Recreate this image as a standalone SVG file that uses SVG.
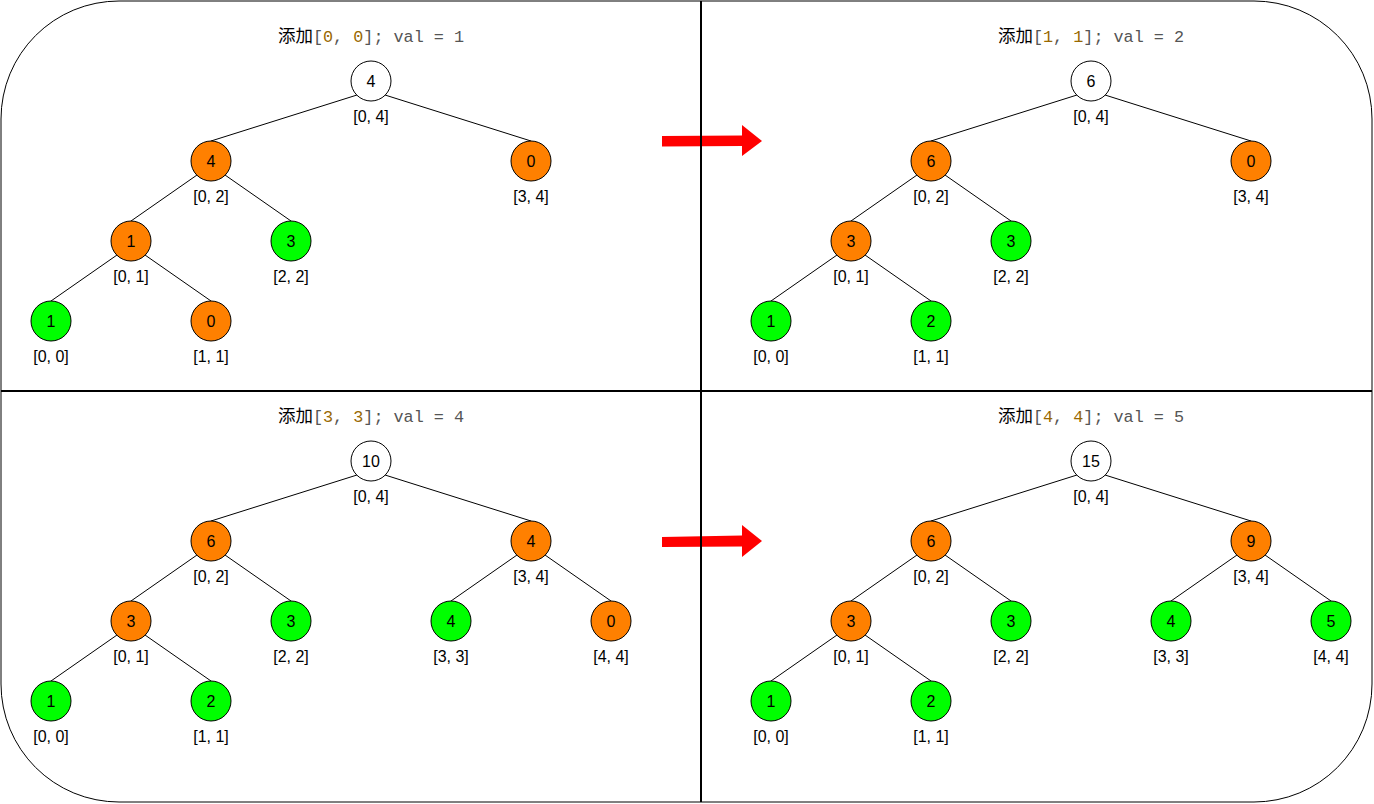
<svg xmlns="http://www.w3.org/2000/svg" width="1374" height="804" viewBox="0 0 1374 804">
<style>
.n{stroke:#000;stroke-width:1}
.w{fill:#fff}.o{fill:#FF8000}.g{fill:#00FF00}
.t{font-family:"Liberation Sans",Arial,sans-serif;font-size:16px;fill:#000;text-anchor:middle}
.ttl{font-family:"Liberation Mono","DejaVu Sans Mono",monospace;font-size:16.8px;fill:#555;text-anchor:middle}
.cjk{font-family:"Noto Sans CJK SC",sans-serif;font-size:17.5px;fill:#000}
.num{fill:#986801}
.e{stroke:#000;stroke-width:1;fill:none}
.arr{fill:#FF0000}
</style>
<rect x="1" y="1" width="1371" height="801" rx="118" ry="118" fill="#fff" stroke="#000" stroke-width="1"/>
<g id="arrows">
<polygon class="arr" points="662,136 742,135.5 742,125 762,141 742,156 742,146 662,146.5"/>
<polygon class="arr" points="662,537 742,535.5 742,525 762,541 742,557 742,546.5 662,547"/>
</g>
<g id="dividers">
<line x1="701" y1="1" x2="701" y2="802" stroke="#000" stroke-width="2"/>
<line x1="1" y1="391" x2="1372" y2="391" stroke="#000" stroke-width="2"/>
</g>
<g id="titles">
<text class="ttl" x="371" y="42"><tspan class="cjk">添加</tspan>[<tspan class="num">0</tspan>, <tspan class="num">0</tspan>]; val = 1</text>
<text class="ttl" x="1091" y="42"><tspan class="cjk">添加</tspan>[<tspan class="num">1</tspan>, <tspan class="num">1</tspan>]; val = 2</text>
<text class="ttl" x="371" y="422"><tspan class="cjk">添加</tspan>[<tspan class="num">3</tspan>, <tspan class="num">3</tspan>]; val = 4</text>
<text class="ttl" x="1091" y="422"><tspan class="cjk">添加</tspan>[<tspan class="num">4</tspan>, <tspan class="num">4</tspan>]; val = 5</text>
</g>
<g id="connectors">
<line class="e" x1="357" y1="95" x2="211" y2="141"/>
<line class="e" x1="385" y1="95" x2="531" y2="141"/>
<line class="e" x1="197" y1="175" x2="131" y2="221"/>
<line class="e" x1="225" y1="175" x2="291" y2="221"/>
<line class="e" x1="117" y1="255" x2="51" y2="301"/>
<line class="e" x1="145" y1="255" x2="211" y2="301"/>
<line class="e" x1="1077" y1="95" x2="931" y2="141"/>
<line class="e" x1="1105" y1="95" x2="1251" y2="141"/>
<line class="e" x1="917" y1="175" x2="851" y2="221"/>
<line class="e" x1="945" y1="175" x2="1011" y2="221"/>
<line class="e" x1="837" y1="255" x2="771" y2="301"/>
<line class="e" x1="865" y1="255" x2="931" y2="301"/>
<line class="e" x1="357" y1="475" x2="211" y2="521"/>
<line class="e" x1="385" y1="475" x2="531" y2="521"/>
<line class="e" x1="197" y1="555" x2="131" y2="601"/>
<line class="e" x1="225" y1="555" x2="291" y2="601"/>
<line class="e" x1="517" y1="555" x2="451" y2="601"/>
<line class="e" x1="545" y1="555" x2="611" y2="601"/>
<line class="e" x1="117" y1="635" x2="51" y2="681"/>
<line class="e" x1="145" y1="635" x2="211" y2="681"/>
<line class="e" x1="1077" y1="475" x2="931" y2="521"/>
<line class="e" x1="1105" y1="475" x2="1251" y2="521"/>
<line class="e" x1="917" y1="555" x2="851" y2="601"/>
<line class="e" x1="945" y1="555" x2="1011" y2="601"/>
<line class="e" x1="1237" y1="555" x2="1171" y2="601"/>
<line class="e" x1="1265" y1="555" x2="1331" y2="601"/>
<line class="e" x1="837" y1="635" x2="771" y2="681"/>
<line class="e" x1="865" y1="635" x2="931" y2="681"/>
</g>
<g id="tl-root"><circle class="n w" cx="371" cy="81" r="20"/><text class="t" x="371" y="87">4</text><text class="t" x="371" y="121.5">[0, 4]</text></g>
<g id="tl-02"><circle class="n o" cx="211" cy="161" r="20"/><text class="t" x="211" y="167">4</text><text class="t" x="211" y="201.5">[0, 2]</text></g>
<g id="tl-34"><circle class="n o" cx="531" cy="161" r="20"/><text class="t" x="531" y="167">0</text><text class="t" x="531" y="201.5">[3, 4]</text></g>
<g id="tl-01"><circle class="n o" cx="131" cy="241" r="20"/><text class="t" x="131" y="247">1</text><text class="t" x="131" y="281.5">[0, 1]</text></g>
<g id="tl-22"><circle class="n g" cx="291" cy="241" r="20"/><text class="t" x="291" y="247">3</text><text class="t" x="291" y="281.5">[2, 2]</text></g>
<g id="tl-00"><circle class="n g" cx="51" cy="321" r="20"/><text class="t" x="51" y="327">1</text><text class="t" x="51" y="361.5">[0, 0]</text></g>
<g id="tl-11"><circle class="n o" cx="211" cy="321" r="20"/><text class="t" x="211" y="327">0</text><text class="t" x="211" y="361.5">[1, 1]</text></g>
<g id="tr-root"><circle class="n w" cx="1091" cy="81" r="20"/><text class="t" x="1091" y="87">6</text><text class="t" x="1091" y="121.5">[0, 4]</text></g>
<g id="tr-02"><circle class="n o" cx="931" cy="161" r="20"/><text class="t" x="931" y="167">6</text><text class="t" x="931" y="201.5">[0, 2]</text></g>
<g id="tr-34"><circle class="n o" cx="1251" cy="161" r="20"/><text class="t" x="1251" y="167">0</text><text class="t" x="1251" y="201.5">[3, 4]</text></g>
<g id="tr-01"><circle class="n o" cx="851" cy="241" r="20"/><text class="t" x="851" y="247">3</text><text class="t" x="851" y="281.5">[0, 1]</text></g>
<g id="tr-22"><circle class="n g" cx="1011" cy="241" r="20"/><text class="t" x="1011" y="247">3</text><text class="t" x="1011" y="281.5">[2, 2]</text></g>
<g id="tr-00"><circle class="n g" cx="771" cy="321" r="20"/><text class="t" x="771" y="327">1</text><text class="t" x="771" y="361.5">[0, 0]</text></g>
<g id="tr-11"><circle class="n g" cx="931" cy="321" r="20"/><text class="t" x="931" y="327">2</text><text class="t" x="931" y="361.5">[1, 1]</text></g>
<g id="bl-root"><circle class="n w" cx="371" cy="461" r="20"/><text class="t" x="371" y="467">10</text><text class="t" x="371" y="501.5">[0, 4]</text></g>
<g id="bl-02"><circle class="n o" cx="211" cy="541" r="20"/><text class="t" x="211" y="547">6</text><text class="t" x="211" y="581.5">[0, 2]</text></g>
<g id="bl-34"><circle class="n o" cx="531" cy="541" r="20"/><text class="t" x="531" y="547">4</text><text class="t" x="531" y="581.5">[3, 4]</text></g>
<g id="bl-01"><circle class="n o" cx="131" cy="621" r="20"/><text class="t" x="131" y="627">3</text><text class="t" x="131" y="661.5">[0, 1]</text></g>
<g id="bl-22"><circle class="n g" cx="291" cy="621" r="20"/><text class="t" x="291" y="627">3</text><text class="t" x="291" y="661.5">[2, 2]</text></g>
<g id="bl-33"><circle class="n g" cx="451" cy="621" r="20"/><text class="t" x="451" y="627">4</text><text class="t" x="451" y="661.5">[3, 3]</text></g>
<g id="bl-44"><circle class="n o" cx="611" cy="621" r="20"/><text class="t" x="611" y="627">0</text><text class="t" x="611" y="661.5">[4, 4]</text></g>
<g id="bl-00"><circle class="n g" cx="51" cy="701" r="20"/><text class="t" x="51" y="707">1</text><text class="t" x="51" y="741.5">[0, 0]</text></g>
<g id="bl-11"><circle class="n g" cx="211" cy="701" r="20"/><text class="t" x="211" y="707">2</text><text class="t" x="211" y="741.5">[1, 1]</text></g>
<g id="br-root"><circle class="n w" cx="1091" cy="461" r="20"/><text class="t" x="1091" y="467">15</text><text class="t" x="1091" y="501.5">[0, 4]</text></g>
<g id="br-02"><circle class="n o" cx="931" cy="541" r="20"/><text class="t" x="931" y="547">6</text><text class="t" x="931" y="581.5">[0, 2]</text></g>
<g id="br-34"><circle class="n o" cx="1251" cy="541" r="20"/><text class="t" x="1251" y="547">9</text><text class="t" x="1251" y="581.5">[3, 4]</text></g>
<g id="br-01"><circle class="n o" cx="851" cy="621" r="20"/><text class="t" x="851" y="627">3</text><text class="t" x="851" y="661.5">[0, 1]</text></g>
<g id="br-22"><circle class="n g" cx="1011" cy="621" r="20"/><text class="t" x="1011" y="627">3</text><text class="t" x="1011" y="661.5">[2, 2]</text></g>
<g id="br-33"><circle class="n g" cx="1171" cy="621" r="20"/><text class="t" x="1171" y="627">4</text><text class="t" x="1171" y="661.5">[3, 3]</text></g>
<g id="br-44"><circle class="n g" cx="1331" cy="621" r="20"/><text class="t" x="1331" y="627">5</text><text class="t" x="1331" y="661.5">[4, 4]</text></g>
<g id="br-00"><circle class="n g" cx="771" cy="701" r="20"/><text class="t" x="771" y="707">1</text><text class="t" x="771" y="741.5">[0, 0]</text></g>
<g id="br-11"><circle class="n g" cx="931" cy="701" r="20"/><text class="t" x="931" y="707">2</text><text class="t" x="931" y="741.5">[1, 1]</text></g>
</svg>
